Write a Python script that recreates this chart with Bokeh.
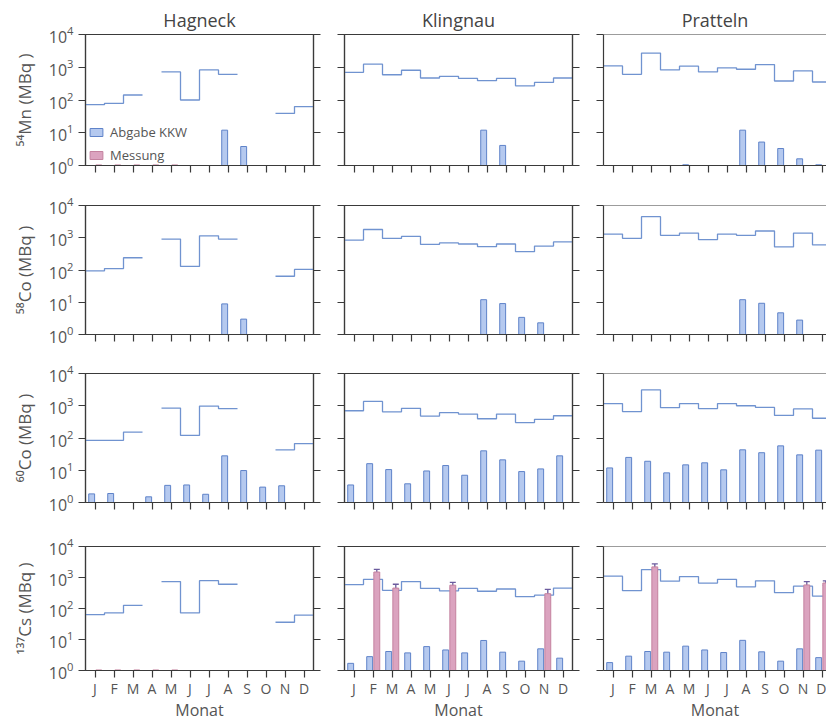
import math
from bokeh.plotting import figure
from bokeh.layouts import column, row
from bokeh.models import (ColumnDataSource, FixedTicker, LogAxis, Span, Legend,
                          LegendItem, Whisker, TeeHead, Range1d)
from bokeh.embed import file_html
from bokeh.resources import INLINE

NaN = float("nan")

# ---------------- data ----------------
months = list(range(1, 13))
month_labels = ["J", "F", "M", "A", "M", "J", "J", "A", "S", "O", "N", "D"]
stations = ["Hagneck", "Klingnau", "Pratteln"]
nuclide_labels = ["\u2075\u2074Mn (MBq )", "\u2075\u2078Co (MBq )",
                  "\u2076\u2070Co (MBq )", "\u00b9\u00b3\u2077Cs (MBq )"]
legend_labels = ["Abgabe KKW", "Messung"]
x_title = "Monat"

# 54Mn
mn54_hag_step = [72, 79, 142, NaN, 720, 100, 830, 610, NaN, NaN, 39, 63]
mn54_hag_kkw = [NaN, NaN, NaN, NaN, NaN, NaN, NaN, 12, 3.8, NaN, NaN, NaN]
mn54_hag_mess = [1.04, 1.04, 1.04, 1.04, 1.04, NaN, NaN, NaN, NaN, NaN, NaN, NaN]
mn54_kli_step = [700, 1240, 590, 810, 470, 530, 455, 390, 455, 270, 345, 470]
mn54_kli_kkw = [NaN, NaN, NaN, NaN, NaN, NaN, NaN, 12, 4.1, NaN, NaN, NaN]
mn54_pra_step = [1100, 610, 2700, 830, 1080, 720, 960, 870, 1210, 380, 775, 355]
mn54_pra_kkw = [NaN, NaN, NaN, NaN, 1.05, NaN, NaN, 12, 5.2, 3.3, 1.6, 1.05]

# 58Co
co58_hag_step = [94, 111, 240, NaN, 910, 129, 1150, 910, NaN, NaN, 64, 104]
co58_hag_kkw = [NaN, NaN, NaN, NaN, NaN, NaN, NaN, 8.9, 3.0, NaN, NaN, NaN]
co58_kli_step = [850, 1800, 950, 1100, 620, 690, 640, 530, 640, 370, 550, 740]
co58_kli_kkw = [NaN, NaN, NaN, NaN, NaN, NaN, NaN, 12, 9.1, 3.4, 2.3, NaN]
co58_pra_step = [1300, 960, 4500, 1190, 1400, 880, 1300, 1190, 1620, 520, 1400, 600]
co58_pra_kkw = [NaN, NaN, NaN, NaN, NaN, NaN, NaN, 12, 9.3, 4.7, 2.8, NaN]

# 60Co
co60_hag_step = [85, 85, 153, NaN, 850, 120, 980, 810, NaN, NaN, 43, 67]
co60_hag_kkw = [1.85, 1.9, NaN, 1.5, 3.4, 3.5, 1.8, 28, 9.8, 3.0, 3.3, NaN]
co60_kli_step = [700, 1360, 650, 830, 480, 610, 550, 395, 550, 300, 380, 490]
co60_kli_kkw = [3.5, 16, 10.5, 3.8, 9.5, 14, 7, 40, 21, 9.1, 11, 28]
co60_pra_step = [1170, 660, 3100, 870, 1170, 820, 1170, 1000, 890, 500, 800, 410]
co60_pra_kkw = [11.8, 25, 19, 8.3, 14.7, 17, 10.3, 43, 35, 57, 30, 42]

# 137Cs
cs137_hag_step = [63, 72, 127, NaN, 740, 72, 790, 605, NaN, NaN, 36, 61]
cs137_hag_mess = [1.04, 1.04, 1.04, 1.04, 1.04, NaN, NaN, NaN, NaN, NaN, NaN, NaN]
cs137_kli_step = [590, 870, 385, 740, 445, 370, 445, 360, 425, 240, 270, 455]
cs137_kli_kkw = [1.7, 2.8, 4.1, 3.7, 5.9, 4.6, 3.7, 9.3, 3.9, 2.0, 5.0, 2.5]
cs137_kli_mess = [NaN, 1500, 455, NaN, NaN, 565, NaN, NaN, NaN, NaN, 300, NaN]
cs137_kli_lo = [NaN, 1180, 360, NaN, NaN, 455, NaN, NaN, NaN, NaN, 225, NaN]
cs137_kli_hi = [NaN, 1820, 605, NaN, NaN, 700, NaN, NaN, NaN, NaN, 415, NaN]
cs137_pra_step = [1100, 375, 1800, 760, 1070, 660, 870, 500, 780, 325, 525, 250]
cs137_pra_kkw = [1.8, 2.9, 4.1, 3.9, 6.1, 4.6, 3.8, 9.4, 4.0, 2.0, 5.0, 2.6]
cs137_pra_mess = [NaN, NaN, 2200, NaN, NaN, NaN, NaN, NaN, NaN, NaN, 575, 665]
cs137_pra_lo = [NaN, NaN, 1620, NaN, NaN, NaN, NaN, NaN, NaN, NaN, 465, 560]
cs137_pra_hi = [NaN, NaN, 2750, NaN, NaN, NaN, NaN, NaN, NaN, NaN, 740, 775]

panels = [
    [dict(step=mn54_hag_step, kkw=mn54_hag_kkw, mess=mn54_hag_mess),
     dict(step=mn54_kli_step, kkw=mn54_kli_kkw),
     dict(step=mn54_pra_step, kkw=mn54_pra_kkw)],
    [dict(step=co58_hag_step, kkw=co58_hag_kkw),
     dict(step=co58_kli_step, kkw=co58_kli_kkw),
     dict(step=co58_pra_step, kkw=co58_pra_kkw)],
    [dict(step=co60_hag_step, kkw=co60_hag_kkw),
     dict(step=co60_kli_step, kkw=co60_kli_kkw),
     dict(step=co60_pra_step, kkw=co60_pra_kkw)],
    [dict(step=cs137_hag_step, mess=cs137_hag_mess),
     dict(step=cs137_kli_step, kkw=cs137_kli_kkw, mess=cs137_kli_mess,
          lo=cs137_kli_lo, hi=cs137_kli_hi),
     dict(step=cs137_pra_step, kkw=cs137_pra_kkw, mess=cs137_pra_mess,
          lo=cs137_pra_lo, hi=cs137_pra_hi)],
]

# ---------------- style / layout ----------------
FONT = "Open Sans"
TEXT = "#555555"
AXIS = "#3a3a3a"
BLUE_FILL = "#b5c9ef"
BLUE_LINE = "#5f83c9"
PINK_FILL = "#dba3bf"
PINK_LINE = "#c4829f"
STEP_COL = "#7093d0"
ERR_COL = "#6b5b9e"

widths = [336, 259, 231]
b_left = [85, 8, 8]
b_right = [23, 23, 0]
heights = [185, 169, 172, 197]
b_top = [34, 20, 19, 20]
b_bottom = [20, 20, 24, 48]
MONTH_PX = 19.0
decades = [1, 10, 100, 1000, 10000]


def valid(v):
    return v is not None and not (isinstance(v, float) and math.isnan(v))


def step_xy(vals):
    xs, ys = [], []
    for m, v in zip(months, vals):
        if valid(v):
            xs += [m - 0.5, m + 0.5]
            ys += [v, v]
        else:
            xs.append(NaN)
            ys.append(NaN)
    return xs, ys


def hide_labels(ax, ticks):
    ax.major_label_overrides = {t: "" for t in ticks}
    ax.major_label_text_font_size = "1px"
    ax.major_label_standoff = 0


def make_panel(r, c, d):
    fw = widths[c] - b_left[c] - b_right[c]
    x_end = 0.5 + fw / MONTH_PX
    p = figure(width=widths[c], height=heights[r], y_axis_type="log",
               x_range=Range1d(0.5, x_end), y_range=Range1d(1, 10000),
               output_backend="svg", toolbar_location=None,
               min_border_left=b_left[c], min_border_right=b_right[c],
               min_border_top=b_top[r], min_border_bottom=b_bottom[r])
    p.grid.visible = False
    p.background_fill_color = "white"
    p.border_fill_color = "white"
    if c == 2:
        p.outline_line_color = None
        p.add_layout(Span(location=10000, dimension="width",
                          line_color=AXIS, line_width=1.2))
    else:
        p.outline_line_color = AXIS
        p.outline_line_width = 1.2

    # x axis
    xa = p.xaxis[0]
    xa.ticker = FixedTicker(ticks=months)
    xa.major_tick_in = 0
    xa.major_tick_out = 7
    xa.minor_tick_line_color = None
    xa.axis_line_color = AXIS
    xa.axis_line_width = 1.2
    xa.major_tick_line_color = AXIS
    xa.major_tick_line_width = 1.2
    if r == 3:
        xa.major_label_overrides = {m: lab for m, lab in zip(months, month_labels)}
        xa.major_label_text_font = FONT
        xa.major_label_text_font_size = "14px"
        xa.major_label_text_color = TEXT
        xa.major_label_standoff = 1
        xa.axis_label = x_title
        xa.axis_label_text_font = FONT
        xa.axis_label_text_font_size = "16px"
        xa.axis_label_text_font_style = "normal"
        xa.axis_label_text_color = TEXT
        xa.axis_label_standoff = -2
    else:
        hide_labels(xa, months)

    # y axis
    ya = p.yaxis[0]
    ya.ticker = FixedTicker(ticks=decades)
    ya.major_tick_in = 0
    ya.major_tick_out = 7
    ya.minor_tick_line_color = None
    ya.axis_line_color = AXIS
    ya.axis_line_width = 1.2
    ya.major_tick_line_color = AXIS
    ya.major_tick_line_width = 1.2
    if c == 0:
        ya.major_label_text_font = FONT
        ya.major_label_text_font_size = "16px"
        ya.major_label_text_color = TEXT
        ya.major_label_standoff = 5
        ya.axis_label = nuclide_labels[r]
        ya.axis_label_text_font = FONT
        ya.axis_label_text_font_size = "17px"
        ya.axis_label_text_font_style = "normal"
        ya.axis_label_text_color = TEXT
        ya.axis_label_standoff = 10
    else:
        hide_labels(ya, decades)

    if c < 2:
        ra = LogAxis(ticker=FixedTicker(ticks=decades),
                     major_tick_in=0, major_tick_out=7,
                     minor_tick_line_color=None, axis_line_color=AXIS,
                     axis_line_width=1.2, major_tick_line_color=AXIS,
                     major_tick_line_width=1.2)
        hide_labels(ra, decades)
        p.add_layout(ra, "right")

    if r == 0:
        p.title.text = stations[c]
        p.title.align = "center"
        p.title.text_font = FONT
        p.title.text_font_size = "18px"
        p.title.text_font_style = "normal"
        p.title.text_color = "#444444"
        p.title.standoff = 6

    # step line
    sx, sy = step_xy(d["step"])
    p.line(sx, sy, line_color=STEP_COL, line_width=1.3)

    # KKW bars
    kkw = d.get("kkw", [NaN] * 12)
    kx = [m - 0.175 for m, v in zip(months, kkw) if valid(v)]
    kt = [v for v in kkw if valid(v)]
    r_blue = p.vbar(x=kx, top=kt, bottom=1, width=0.31, fill_color=BLUE_FILL,
                    line_color=BLUE_LINE, line_width=1)

    # Messung bars
    mess = d.get("mess", [NaN] * 12)
    mx = [m + 0.2 for m, v in zip(months, mess) if valid(v)]
    mt = [v for v in mess if valid(v)]
    r_pink = p.vbar(x=mx, top=mt, bottom=1, width=0.31, fill_color=PINK_FILL,
                    line_color=PINK_LINE, line_width=1)

    if "lo" in d:
        ex = [m + 0.2 for m, v in zip(months, d["lo"]) if valid(v)]
        elo = [v for v in d["lo"] if valid(v)]
        ehi = [v for v in d["hi"] if valid(v)]
        src = ColumnDataSource(dict(base=ex, lower=elo, upper=ehi))
        w = Whisker(source=src, base="base", lower="lower", upper="upper",
                    dimension="height", line_color=ERR_COL, line_width=1.3,
                    upper_head=TeeHead(size=6, line_color=ERR_COL, line_width=1.3),
                    lower_head=TeeHead(size=6, line_color=ERR_COL, line_width=1.3))
        p.add_layout(w)

    if r == 0 and c == 0:
        leg = Legend(items=[LegendItem(label=legend_labels[0], renderers=[r_blue]),
                            LegendItem(label=legend_labels[1], renderers=[r_pink])],
                     location=(3, 1), background_fill_alpha=0,
                     border_line_color=None, glyph_width=16, glyph_height=10,
                     label_text_font=FONT, label_text_font_size="13px",
                     label_text_color=TEXT, padding=2, spacing=5, margin=0,
                     label_standoff=6, label_height=14)
        p.add_layout(leg)
    return p


rows = []
for r in range(4):
    rows.append(row([make_panel(r, c, panels[r][c]) for c in range(3)]))
layout = column(rows)

open("out.html", "w").write(file_html(layout, INLINE))
